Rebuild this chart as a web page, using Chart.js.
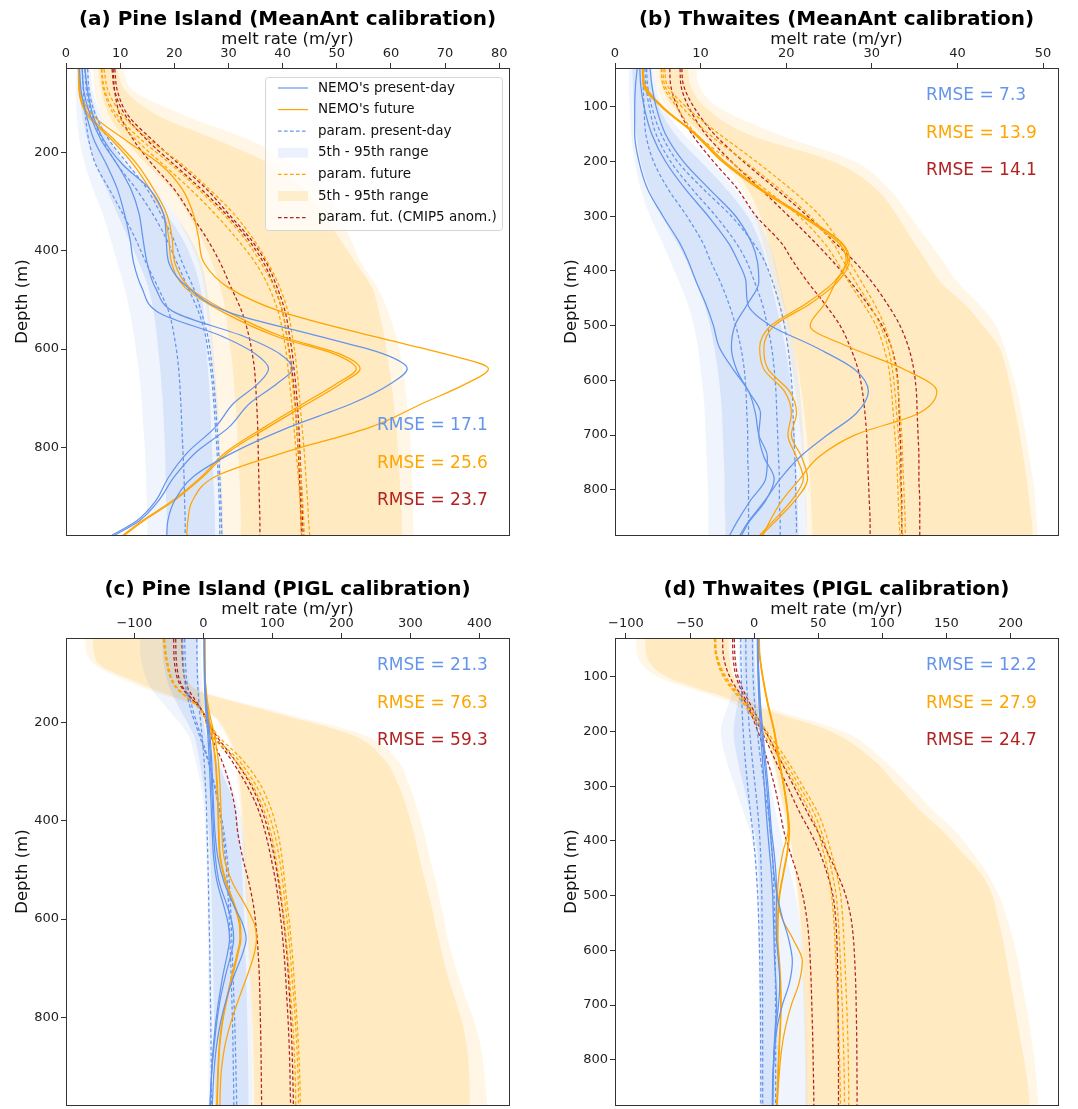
<!DOCTYPE html>
<html>
<head>
<meta charset="utf-8">
<script src="https://cdn.jsdelivr.net/npm/chart.js@4.4.1/dist/chart.umd.min.js"></script>
<style>
  html, body { margin: 0; padding: 0; background: #fff; overflow: hidden; }
  .panel { position: absolute; width: 530px; height: 545px; }
</style>
</head>
<body>
<div class="panel" style="left:0;top:0"><canvas id="chartA" width="530" height="545"></canvas></div>
<div class="panel" style="left:549px;top:0"><canvas id="chartB" width="530" height="545"></canvas></div>
<div class="panel" style="left:0;top:570px"><canvas id="chartC" width="530" height="545"></canvas></div>
<div class="panel" style="left:549px;top:570px"><canvas id="chartD" width="530" height="545"></canvas></div>
<script>
// Depth levels (m) of the profiles, one list per ice shelf
const depthPI = [30, 75, 125, 175, 225, 275, 325, 375, 425, 475, 525, 575, 610, 640, 670, 710, 760, 810, 860, 910, 950, 979]
const depthTW = [30, 60, 100, 150, 200, 250, 300, 350, 380, 420, 460, 500, 540, 580, 620, 660, 700, 740, 780, 820, 860, 883]

// Tick labels
const xTicksA = [0, 10, 20, 30, 40, 50, 60, 70, 80]
const xTicksB = [0, 10, 20, 30, 40, 50]
const xTicksC = [-100, 0, 100, 200, 300, 400]
const xTicksD = [-100, -50, 0, 50, 100, 150, 200]
const yTicksPI = [200, 400, 600, 800]
const yTicksTW = [100, 200, 300, 400, 500, 600, 700, 800]

// RMSE labels: present-day, future, future (CMIP5 anom.)
const rmseA = [17.1, 25.6, 23.7]
const rmseB = [7.3, 13.9, 14.1]
const rmseC = [21.3, 76.3, 59.3]
const rmseD = [12.2, 27.9, 24.7]

// ---- (a) Pine Island, MeanAnt calibration (m/yr) ----
const aNemoPresent = [
  [2.5, 2.8, 3.8, 5.2, 7.5, 9.5, 10.8, 11.8, 12.5, 14, 17, 29, 35, 37.4, 35.5, 31, 27.5, 22.5, 19, 16.5, 13, 8.5],
  [3, 3.3, 4.5, 6.5, 9.5, 12, 13.5, 14.2, 15, 16.5, 20, 33, 39.5, 41.8, 39, 34, 30, 24, 20, 17, 13.5, 9],
  [3.5, 4, 5, 7, 10.5, 15.5, 18, 18.5, 19, 22.5, 30, 47, 58.6, 63, 60, 53, 41, 31, 23.5, 20, 18.8, 18.6]
]
const aNemoFuture = [
  [2.3, 2.4, 4, 8.5, 12.5, 15.5, 18, 19, 19.5, 22, 29, 39, 49.5, 53.6, 50, 44, 36.5, 29.5, 25, 19.5, 14, 10.5],
  [2.4, 2.5, 4.3, 9, 13.2, 16.2, 18.6, 19.6, 20.1, 22.8, 30, 40, 50.5, 54.3, 50.8, 44.8, 37.2, 30, 25.3, 19.8, 14.3, 10.8],
  [2.3, 2.6, 5, 11, 17.5, 21.5, 23.5, 24.5, 25.5, 30, 40, 57, 70, 78, 74, 66, 56, 40.5, 27.5, 23.3, 22.5, 22.3]
]
const aParamPresent = [
  [3, 3.2, 3.6, 4.2, 5.5, 8, 10.5, 12.8, 14.8, 17, 19, 20, 20.5, 20.8, 21, 21.2, 21.4, 21.6, 21.8, 21.9, 22, 22],
  [3.5, 3.8, 4.8, 6.8, 9.5, 13, 16, 18.5, 20.5, 22.5, 24.5, 25.8, 26.3, 26.7, 27, 27.3, 27.6, 27.9, 28.1, 28.3, 28.4, 28.4],
  [4, 4.3, 5.5, 8, 11.5, 15, 17.5, 19.8, 21.5, 23.5, 25, 26.2, 26.7, 27, 27.3, 27.6, 27.9, 28.2, 28.4, 28.6, 28.7, 28.8]
]
const aParamFuture = [
  [6.6, 7.2, 9.5, 14, 19.5, 24.5, 29, 33, 36, 38.5, 40, 40.8, 41.2, 41.5, 41.8, 42.2, 42.6, 43, 43.4, 43.7, 43.9, 44],
  [7, 7.8, 10.5, 15.5, 21.5, 26.5, 31, 34.5, 37.3, 39.5, 41, 41.8, 42.3, 42.6, 42.9, 43.2, 43.6, 44, 44.3, 44.6, 44.8, 45],
  [6.5, 7, 9, 13, 18, 23, 27.5, 31.5, 35, 37.5, 39.2, 40.2, 40.7, 41, 41.3, 41.7, 42.1, 42.5, 42.9, 43.2, 43.4, 43.5]
]
const aParamCmip5 = [
  [8.7, 9, 10, 12.5, 16, 20, 23, 26, 28.5, 30.5, 32.5, 33.8, 34.4, 34.8, 35, 35.2, 35.4, 35.5, 35.6, 35.7, 35.8, 35.8],
  [8.5, 9, 11, 15, 20, 25, 29.5, 33.5, 36.5, 38.5, 40, 40.8, 41.3, 41.7, 42, 42.3, 42.6, 42.9, 43.1, 43.3, 43.4, 43.5],
  [9, 9.5, 11.5, 16, 21, 26, 30, 34, 37, 39, 40.5, 41.3, 41.8, 42.1, 42.4, 42.7, 43, 43.2, 43.4, 43.6, 43.7, 43.8]
]
// 5th-95th ranges: outer low, outer high, inner low, inner high
const aPresentRange = [
  [2, 1.8, 2, 2.5, 3.5, 5, 6.8, 8.2, 9.5, 10.8, 11.8, 12.6, 13, 13.4, 13.7, 14, 14.3, 14.6, 14.8, 14.9, 15, 15],
  [4.5, 5, 6.5, 9, 12.5, 16.5, 20, 23, 25, 26, 26.5, 27, 27.3, 27.5, 27.7, 28, 28.3, 28.5, 28.7, 28.9, 29, 29],
  [2.5, 2.6, 3, 4, 5.5, 7.5, 9.5, 11.5, 13.5, 15.2, 16.2, 16.8, 17.1, 17.4, 17.6, 17.9, 18.1, 18.3, 18.4, 18.5, 18.6, 18.6],
  [4, 4.5, 5.8, 8, 11, 15, 18.5, 21.5, 23.5, 24.8, 25.4, 25.8, 26, 26.2, 26.4, 26.6, 26.8, 27, 27.2, 27.4, 27.5, 27.5]
]
const aFutureRange = [
  [5, 5.3, 6.5, 9, 12.5, 16.5, 20, 22.5, 24.5, 25.5, 26, 26.5, 26.8, 27, 27.2, 27.5, 27.8, 28, 28.2, 28.4, 28.5, 28.5],
  [10.5, 12.5, 22, 34, 42, 47.5, 50.5, 52.5, 54.5, 57.5, 59.5, 61, 61.7, 62.2, 62.6, 63, 63.4, 63.7, 63.9, 64, 64.1, 64.2],
  [6, 6.5, 8, 11, 15, 19.5, 22.5, 25, 27, 28.5, 29.5, 30, 30.5, 30.8, 31, 31.3, 31.6, 31.8, 32, 32.2, 32.3, 32.3],
  [9.4, 11, 17, 28, 38, 44, 47.5, 50.5, 53.5, 56.5, 57.8, 58.8, 59.3, 59.7, 60.1, 60.5, 61, 61.3, 61.6, 61.8, 62, 62]
]

// ---- (b) Thwaites, MeanAnt calibration ----
const bNemoPresent = [
  [2.6, 2.4, 2.3, 2.3, 2.8, 3.8, 5.6, 7.6, 8.5, 9.5, 10.6, 11.5, 12.2, 13.8, 15.6, 16.4, 16.8, 17.8, 17.6, 15.8, 14.2, 13.4],
  [4.1, 4.3, 4.8, 5.9, 8, 11, 14.1, 16, 16.6, 16.8, 15.5, 14, 13.6, 14.2, 15.6, 17, 16.8, 17.4, 18.6, 17.6, 15.6, 14.8],
  [2.9, 3, 3.4, 4.3, 5.9, 8.2, 10.9, 13.3, 14.3, 15.3, 15.5, 18.2, 23.5, 28, 29.6, 28.2, 24.8, 21.6, 19.3, 17.5, 15.5, 14.6]
]
const bNemoFuture = [
  [3.2, 3.3, 5.4, 9.3, 12.5, 16.8, 21.8, 26.2, 27, 25.6, 22.3, 18.2, 16.9, 17.4, 19.8, 20.6, 20.2, 21.2, 22, 20.6, 18.3, 16.9],
  [3.3, 3.5, 5.6, 9.5, 12.8, 17.1, 22.1, 26.6, 27.4, 26, 22.8, 18.6, 17.4, 17.9, 20.4, 21.2, 20.6, 21.8, 22.5, 21, 18.6, 17.1],
  [3.2, 3.4, 5.5, 9.4, 12.6, 16.9, 22, 26.5, 27.2, 25.8, 24.5, 22.8, 27.5, 33.8, 37.6, 35.5, 28, 23.8, 21.6, 19.5, 18, 17.3]
]
const bParamPresent = [
  [3.3, 3.3, 3.4, 3.6, 4.5, 6.2, 8.4, 10.3, 11.1, 12.3, 13.3, 14.1, 14.7, 15.1, 15.3, 15.4, 15.5, 15.5, 15.6, 15.6, 15.6, 15.6],
  [3.5, 3.6, 4, 4.8, 6.5, 9, 11.8, 14.2, 15.3, 16.3, 17.2, 17.8, 18.3, 18.6, 18.8, 18.9, 19, 19.1, 19.2, 19.2, 19.3, 19.3],
  [3.7, 3.8, 4.3, 5.4, 7.3, 10.3, 13.6, 16.2, 17.4, 18.4, 19.2, 19.8, 20.2, 20.5, 20.7, 20.8, 20.9, 21, 21.1, 21.1, 21.2, 21.2]
]
const bParamFuture = [
  [5.4, 5.6, 7.2, 9.5, 13.5, 17.5, 21.5, 24.5, 25.8, 27.3, 29, 30.5, 31.4, 32, 32.3, 32.5, 32.7, 32.9, 33, 33.1, 33.2, 33.3],
  [5.8, 6.1, 8.3, 12.2, 16.5, 20.5, 24, 26.3, 27.3, 28.8, 30.3, 31.5, 32.3, 32.8, 33.1, 33.3, 33.5, 33.6, 33.7, 33.8, 33.9, 33.9],
  [5.6, 5.8, 7.8, 11, 15.2, 19.2, 22.8, 25.5, 26.6, 28.1, 29.7, 31, 31.9, 32.4, 32.7, 32.9, 33.1, 33.2, 33.3, 33.4, 33.5, 33.6]
]
const bParamCmip5 = [
  [6.4, 6.5, 7.3, 9, 11.5, 14.3, 16.5, 19.5, 20.7, 22.5, 24.5, 26.3, 27.5, 28.4, 28.9, 29.2, 29.4, 29.5, 29.6, 29.7, 29.8, 29.8],
  [7.6, 7.7, 8.6, 10.6, 13.6, 17, 20.3, 23.5, 25.3, 27.5, 29.5, 31.2, 32.3, 32.9, 33.1, 33.2, 33.3, 33.4, 33.4, 33.5, 33.5, 33.5],
  [7.8, 8, 9.2, 11.6, 15, 18.8, 22.5, 25.8, 27.8, 30, 31.8, 33.3, 34.3, 34.9, 35.2, 35.3, 35.4, 35.5, 35.5, 35.6, 35.6, 35.6]
]
const bPresentRange = [
  [1.6, 1.6, 1.7, 1.9, 2.3, 3, 4.1, 5.6, 6.4, 7.5, 8.5, 9.2, 9.7, 10, 10.3, 10.5, 10.6, 10.7, 10.8, 10.9, 10.9, 10.9],
  [4.5, 4.8, 5.6, 8, 11.2, 14, 16.5, 18, 18.6, 19.2, 19.8, 20.4, 20.9, 21.3, 21.6, 21.8, 22, 22.1, 22.2, 22.3, 22.4, 22.4],
  [2, 2.1, 2.2, 2.5, 3, 4, 5.5, 7.3, 8.3, 9.4, 10.4, 11.1, 11.6, 12, 12.3, 12.5, 12.6, 12.7, 12.8, 12.8, 12.9, 12.9],
  [4.2, 4.4, 5.1, 7, 10, 13, 15.5, 17, 17.6, 18.2, 18.8, 19.4, 19.9, 20.3, 20.6, 20.8, 21, 21.1, 21.2, 21.3, 21.4, 21.4]
]
const bFutureRange = [
  [4.6, 4.8, 6, 9.5, 12.6, 14.8, 16.3, 17.3, 17.8, 18.4, 19, 19.6, 20.2, 20.7, 21.1, 21.4, 21.7, 21.9, 22.1, 22.2, 22.3, 22.4],
  [9.5, 9.8, 12, 19, 28, 32, 34.5, 36.8, 38.2, 40, 42.5, 44.5, 45.5, 46.3, 47, 47.5, 48, 48.4, 48.8, 49.1, 49.3, 49.4],
  [5.2, 5.4, 6.8, 10.2, 13.3, 15.5, 17, 18, 18.5, 19.1, 19.7, 20.3, 20.9, 21.4, 21.8, 22.1, 22.4, 22.6, 22.8, 22.9, 23, 23.1],
  [8.5, 8.8, 10.5, 15.5, 25.5, 30.5, 33, 35, 36.3, 38, 40.8, 43, 44.9, 45.7, 46.3, 46.8, 47.3, 47.7, 48.1, 48.4, 48.7, 48.8]
]

// ---- (c) Pine Island, PIGL calibration ----
const cNemoPresent = [
  [1, 1.2, 1.8, 3.5, 6.5, 8.5, 10, 11.5, 13, 15, 20, 30, 36, 38, 35, 29, 23, 18, 14.5, 12, 10.5, 9.5],
  [1.2, 1.5, 2.2, 4.5, 8, 10.5, 12, 13.5, 15, 17.5, 23, 35, 42, 44, 40.5, 33, 25, 19.5, 15.5, 12.5, 11, 10],
  [1.5, 1.8, 2.8, 5.5, 9.5, 12, 13.5, 15, 17, 21, 30, 45, 57, 62, 57, 46, 34, 25, 19, 15.5, 14, 13]
]
const cNemoFuture = [
  [2, 2.2, 3, 6, 12, 17, 19.5, 21, 22, 24, 32, 45, 52, 53, 49, 42, 34, 27, 23, 21, 20, 19.5],
  [2.2, 2.4, 3.2, 6.5, 12.8, 17.8, 20.3, 21.8, 22.8, 25, 33.5, 46.5, 53.5, 54.5, 50.5, 43.5, 35, 28, 23.8, 21.8, 20.7, 20.2],
  [2, 2.3, 3.5, 8, 16, 21.5, 24, 25.5, 27, 30, 42, 62, 74, 77, 74, 65, 52, 40, 31, 26, 24.5, 24]
]
const cParamPresent = [
  [-9.5, -9, -8, -5.5, -2, 1, 3, 4.5, 5.5, 6.5, 7.3, 8, 8.5, 9, 9.4, 9.8, 10.3, 10.8, 11.2, 11.6, 11.9, 12],
  [-30, -29, -26, -18, -6, 6, 16, 24, 30, 34.5, 37.5, 39.5, 40.5, 41.3, 42, 43, 44.3, 45.5, 46.5, 47.3, 48, 48.3],
  [-27, -26, -23, -15, -4, 7, 15.5, 22.5, 28, 32, 34.8, 36.8, 37.8, 38.6, 39.3, 40.2, 41.3, 42.3, 43, 43.6, 44, 44.2]
]
const cParamFuture = [
  [-57, -53, -41, -3, 14, 50, 75, 92, 103, 110, 115, 119, 122, 124, 126, 128, 131, 133.5, 135.5, 137, 137.8, 138],
  [-56, -52, -40, -2, 20, 56, 82, 98, 108, 114, 118, 122, 125, 127, 129, 131, 133.5, 136, 138, 139.5, 140.3, 140.5],
  [-58, -54, -42, -4, 11, 45, 70, 87, 98, 105, 110.5, 115, 118, 120, 122, 124.5, 127, 129.5, 131.5, 133, 133.8, 134]
]
const cParamCmip5 = [
  [-43, -42, -33, -3, 10, 26, 38, 46, 50, 57, 66, 73, 76, 78, 79.5, 81, 82, 82.8, 83.5, 84, 84.3, 84.5],
  [-31, -30, -24, -2, 18, 45, 68, 84, 95, 103, 109, 114, 117, 119, 121, 123, 125, 127, 128.5, 129.5, 130.2, 130.5],
  [-40, -39, -31, -3, 15, 40, 62, 79, 90, 98, 105, 110, 113, 115, 117, 119, 121, 123, 124.5, 125.5, 126, 126.5]
]
const cPresentRange = [
  [-92, -90, -78, -50, -22, -12, -4, 1, 3, 4.5, 5.5, 6, 6.3, 6.5, 6.7, 7, 7.2, 7.4, 7.5, 7.6, 7.6, 7.6],
  [-3, -3, -1, 2, 8, 22, 40, 52, 58, 61, 63, 64.5, 65.5, 66.5, 67.5, 68.5, 69.5, 70.5, 71, 71.5, 72, 72],
  [-60, -58, -50, -33, -14, -6, 0, 5, 8, 10, 11.5, 12.5, 13, 13.5, 14, 14.5, 15, 15.5, 16, 16.3, 16.5, 16.5],
  [-8, -8, -6, -2, 4, 18, 34, 46, 52, 55, 57, 58.5, 59.5, 60.3, 61, 62, 63, 63.8, 64.5, 65, 65.3, 65.5]
]
const cFutureRange = [
  [-172, -163, -95, 2, 32, 45, 50, 53, 56, 58, 60, 62, 63.5, 64.5, 65.5, 67, 68.5, 70, 71, 72, 72.5, 72.5],
  [-28, -27, -17, 100, 232, 280, 298, 310, 320, 328, 337, 345, 350, 354, 360, 368, 380, 393, 402, 407, 410, 411],
  [-160, -155, -85, 5, 35, 48, 53, 56, 58, 60, 62, 64, 65, 66, 67, 68.5, 70, 71.5, 72.5, 73, 73.5, 73.5],
  [-30, -29, -19, 90, 215, 262, 282, 295, 305, 313, 322, 331, 336, 341, 346, 353, 364, 375, 382, 385, 386, 386]
]

// ---- (d) Thwaites, PIGL calibration ----
const dNemoPresent = [
  [2.5, 2.6, 3, 3.8, 5, 6.5, 8, 9.5, 10.5, 12, 13.5, 14.5, 15, 15.5, 16, 17, 17.5, 16.5, 15.5, 14.8, 14.3, 14.2],
  [3, 3.2, 3.8, 5, 6.8, 8.8, 10.8, 12.5, 13.5, 15.5, 17, 17.5, 17.2, 17.5, 19, 20, 19, 17, 15.8, 15, 14.6, 14.5],
  [2.8, 3, 3.5, 4.5, 6, 7.8, 9.8, 11.5, 12.5, 14, 15.5, 18, 22, 27, 29.8, 27.5, 22, 18, 16, 15, 14.6, 14.5]
]
const dNemoFuture = [
  [3.8, 4.2, 6.5, 10.5, 15.5, 19, 23, 26, 27.2, 25.7, 22.5, 19.5, 18.3, 18.1, 19.4, 20.3, 20.7, 20.2, 19.3, 18.6, 18, 17.6],
  [4, 4.5, 6.9, 11, 16, 19.5, 23.5, 26.5, 27.6, 26.2, 23, 20, 18.8, 18.6, 19.8, 20.8, 21.1, 20.6, 19.7, 19, 18.3, 17.9],
  [3.9, 4.3, 6.7, 10.7, 15.7, 19.2, 23.2, 26.2, 26.5, 22.5, 19.5, 18.2, 21.5, 30.5, 37.6, 35, 29, 24.5, 21.5, 19.8, 18.5, 18]
]
const dParamPresent = [
  [-10.4, -10.3, -10, -9.5, -8.5, -7, -5, -2.8, -1.2, 0.5, 1.8, 2.8, 3.5, 4, 4.4, 4.7, 4.9, 5, 5.1, 5.2, 5.2, 5.2],
  [-6.5, -6.4, -6, -5, -3.5, -1.5, 0.8, 3, 4, 5, 5.6, 6, 6.2, 6.3, 6.4, 6.5, 6.6, 6.6, 6.7, 6.7, 6.7, 6.7],
  [-1.3, -1.2, -0.8, 0.5, 2.5, 5, 8, 11, 12.5, 14, 15, 15.6, 16, 16.3, 16.5, 16.6, 16.7, 16.8, 16.8, 16.8, 16.8, 16.8]
]
const dParamFuture = [
  [-31, -30, -24, -8, 6, 20, 33, 44, 49.5, 54, 58, 60.5, 62, 63, 63.8, 64.5, 65.2, 65.8, 66.4, 66.9, 67.2, 67.4],
  [-30, -29, -22, -5, 10, 25, 38, 50, 55, 60, 64.5, 67.5, 69, 70, 70.8, 71.5, 72.2, 72.8, 73.3, 73.6, 73.8, 73.8],
  [-30.5, -29.5, -23, -6.5, 8, 22.5, 35.5, 47, 52, 57, 61, 64, 65.5, 66.5, 67.3, 68, 68.7, 69.3, 69.8, 70.2, 70.4, 70.5]
]
const dParamCmip5 = [
  [-24.6, -24, -19, -6, 3, 10, 16, 20.5, 23, 28, 33.5, 38, 41, 42.8, 43.8, 44.5, 45, 45.5, 45.9, 46.2, 46.5, 46.6],
  [-16.8, -16.5, -14, -5, 6, 16, 26, 36, 43, 51, 57, 61.5, 63.5, 64.5, 65, 65.3, 65.5, 65.6, 65.7, 65.8, 65.8, 65.8],
  [-15.5, -15, -12.5, -3, 9, 20, 31, 42, 49, 57, 65, 71.5, 75.5, 77.5, 78.5, 79.2, 79.6, 79.9, 80.1, 80.2, 80.3, 80.3]
]
const dPresentRange = [
  [-12, -12, -13, -20, -26, -22, -15, -8, -3.5, 0, 1.5, 2.3, 2.8, 3.2, 3.5, 3.7, 3.8, 3.9, 3.9, 3.9, 3.9, 3.9],
  [2, 2.2, 3, 4.5, 6.5, 9.5, 13, 17, 19.8, 24, 28.5, 32.5, 35, 36.8, 38, 39, 39.8, 40.4, 40.9, 41.2, 41.4, 41.5],
  [-9, -9, -9.5, -13, -16, -13, -8, -3, 0, 2.5, 3.5, 4.2, 4.6, 4.9, 5.1, 5.3, 5.4, 5.5, 5.5, 5.6, 5.6, 5.6],
  [0, 0.2, 1, 2.5, 4.5, 7, 9.5, 12, 13.5, 15, 16.3, 17.2, 17.8, 18.2, 18.5, 18.7, 18.8, 18.9, 19, 19, 19, 19]
]
const dFutureRange = [
  [-92, -91, -75, -15, 8, 14, 18.5, 23, 26, 29, 31.5, 33.5, 35, 36.3, 37.3, 38, 38.6, 39, 39.4, 39.7, 39.9, 40],
  [-18, -17.5, -14, 5, 70, 100, 122, 142, 156, 170, 182, 191, 197, 202, 206, 209, 212, 215, 217.5, 219.5, 221, 221.5],
  [-85, -84, -68, -10, 9, 15, 19.5, 24, 27, 30, 32.5, 34.5, 36, 37.3, 38.3, 39, 39.6, 40, 40.4, 40.7, 40.9, 41],
  [-20, -19.5, -16, 0, 60, 92, 112, 132, 146, 162, 177, 186, 190, 194, 197, 200, 203, 206, 209, 212, 214, 215]
]

const BLUE = '#6495ED'
const ORANGE = '#FFA500'
const RED = '#B22222'
const FONT = '"DejaVu Sans", "Liberation Sans", sans-serif'
const DASH = [3.6, 2.4]

function profile(depth, values) {
  return values.map((v, i) => ({ x: v, y: depth[i] }))
}

function lineSet(depth, values, color, dashed) {
  return {
    data: profile(depth, values),
    borderColor: color,
    borderWidth: 1.25,
    borderDash: dashed ? DASH : [],
    pointRadius: 0,
    fill: false
  }
}

function bandSets(depth, lo, hi, color) {
  return [
    { data: profile(depth, lo), borderWidth: 0, borderColor: 'rgba(0,0,0,0)', pointRadius: 0, fill: false },
    { data: profile(depth, hi), borderWidth: 0, borderColor: 'rgba(0,0,0,0)', pointRadius: 0, fill: '-1', backgroundColor: color }
  ]
}

function tickLabel(v) {
  return v < 0 ? '\u2212' + Math.abs(v) : String(v)
}

// Frame around the plotting area (all four spines)
const framePlugin = {
  id: 'frame',
  afterDatasetsDraw(chart) {
    const { ctx, chartArea: a } = chart
    ctx.save()
    ctx.strokeStyle = '#333'
    ctx.lineWidth = 1
    ctx.strokeRect(Math.round(a.left) + 0.5, Math.round(a.top) + 0.5, Math.round(a.right - a.left), Math.round(a.bottom - a.top))
    ctx.restore()
  }
}

function rmsePlugin(values, top) {
  const colors = [BLUE, ORANGE, RED]
  return {
    id: 'rmse',
    afterDraw(chart) {
      const { ctx, chartArea: a } = chart
      ctx.save()
      ctx.font = '17px ' + FONT
      ctx.textAlign = 'left'
      ctx.textBaseline = 'middle'
      values.forEach((v, i) => {
        ctx.fillStyle = colors[i]
        ctx.fillText('RMSE = ' + v.toFixed(1), a.left + 311, a.top + top + i * 37.4)
      })
      ctx.restore()
    }
  }
}

const legendItems = [
  { text: "NEMO's present-day", kind: 'line', color: BLUE },
  { text: "NEMO's future", kind: 'line', color: ORANGE },
  { text: 'param. present-day', kind: 'dash', color: BLUE },
  { text: '5th - 95th range', kind: 'box', color: 'rgba(100,149,237,0.12)' },
  { text: 'param. future', kind: 'dash', color: ORANGE },
  { text: '5th - 95th range', kind: 'box', color: 'rgba(255,165,0,0.16)' },
  { text: 'param. fut. (CMIP5 anom.)', kind: 'dash', color: RED }
]

const legendPlugin = {
  id: 'boxLegend',
  afterDraw(chart) {
    const { ctx, chartArea: a } = chart
    const x0 = a.left + 199, y0 = a.top + 9, w = 237, h = 153
    ctx.save()
    ctx.beginPath()
    ctx.roundRect(x0 + 0.5, y0 + 0.5, w, h, 3)
    ctx.fillStyle = 'rgba(255,255,255,0.8)'
    ctx.fill()
    ctx.strokeStyle = '#d6d6d6'
    ctx.lineWidth = 1
    ctx.stroke()
    ctx.font = '13.5px ' + FONT
    ctx.textBaseline = 'middle'
    ctx.textAlign = 'left'
    legendItems.forEach((item, i) => {
      const y = y0 + 11 + i * 21.6
      const sx = x0 + 13
      if (item.kind === 'box') {
        ctx.fillStyle = item.color
        ctx.fillRect(sx, y - 5, 30, 10)
      } else {
        ctx.beginPath()
        ctx.setLineDash(item.kind === 'dash' ? DASH : [])
        ctx.strokeStyle = item.color
        ctx.lineWidth = 1.2
        ctx.moveTo(sx, y)
        ctx.lineTo(sx + 30, y)
        ctx.stroke()
        ctx.setLineDash([])
      }
      ctx.fillStyle = '#111'
      ctx.fillText(item.text, x0 + 53, y)
    })
    ctx.restore()
  }
}

function makeChart(id, p) {
  const datasets = []
  p.nemoPresent.forEach(v => datasets.push(lineSet(p.depth, v, BLUE, false)))
  p.nemoFuture.forEach(v => datasets.push(lineSet(p.depth, v, ORANGE, false)))
  p.paramPresent.forEach(v => datasets.push(lineSet(p.depth, v, BLUE, true)))
  p.paramFuture.forEach(v => datasets.push(lineSet(p.depth, v, ORANGE, true)))
  p.paramCmip5.forEach(v => datasets.push(lineSet(p.depth, v, RED, true)))
  datasets.push(...bandSets(p.depth, p.presentRange[0], p.presentRange[1], 'rgba(100,149,237,0.10)'))
  datasets.push(...bandSets(p.depth, p.presentRange[2], p.presentRange[3], 'rgba(100,149,237,0.17)'))
  datasets.push(...bandSets(p.depth, p.futureRange[0], p.futureRange[1], 'rgba(255,165,0,0.10)'))
  datasets.push(...bandSets(p.depth, p.futureRange[2], p.futureRange[3], 'rgba(255,165,0,0.16)'))

  const plugins = [framePlugin, rmsePlugin(p.rmse, p.rmseTop)]
  if (p.legend) plugins.push(legendPlugin)

  return new Chart(document.getElementById(id), {
    type: 'line',
    data: { datasets },
    options: {
      indexAxis: 'y',
      responsive: false,
      animation: false,
      events: [],
      layout: { padding: { left: 0, right: 21, top: 0, bottom: 6 } },
      elements: { line: { cubicInterpolationMode: 'monotone' } },
      scales: {
        x: {
          type: 'linear',
          position: 'top',
          min: p.xMin,
          max: p.xMax,
          afterFit(s) { s.height = 36 },
          afterBuildTicks(s) { s.ticks = p.xTicks.map(v => ({ value: v })) },
          border: { display: false },
          grid: { drawOnChartArea: false, tickLength: 5, color: '#333' },
          ticks: { color: '#222', padding: 2, maxRotation: 0, autoSkip: false, font: { family: FONT, size: 13 }, callback: tickLabel },
          title: { display: true, text: 'melt rate (m/yr)', color: '#111', padding: { top: -2, bottom: 0 }, font: { family: FONT, size: 16.5 } }
        },
        y: {
          type: 'linear',
          reverse: true,
          min: p.yMin,
          max: p.yMax,
          afterFit(s) { s.width = 66 },
          afterBuildTicks(s) { s.ticks = p.yTicks.map(v => ({ value: v })) },
          border: { display: false },
          grid: { drawOnChartArea: false, tickLength: 5, color: '#333' },
          ticks: { color: '#222', padding: 2, autoSkip: false, font: { family: FONT, size: 13 }, callback: tickLabel },
          title: { display: true, text: 'Depth (m)', color: '#111', padding: { top: 13, bottom: 0 }, font: { family: FONT, size: 16.5 } }
        }
      },
      plugins: {
        legend: { display: false },
        tooltip: { enabled: false },
        filler: { drawTime: 'beforeDatasetsDraw' },
        title: {
          display: true,
          text: p.title,
          fullSize: false,
          color: '#000',
          padding: { top: 8, bottom: 0 },
          font: { family: FONT, size: 20, weight: 'bold' }
        }
      }
    },
    plugins
  })
}

makeChart('chartA', {
  title: '(a) Pine Island (MeanAnt calibration)', depth: depthPI,
  xMin: 0, xMax: 81.8, yMin: 28, yMax: 979, xTicks: xTicksA, yTicks: yTicksPI,
  nemoPresent: aNemoPresent, nemoFuture: aNemoFuture, paramPresent: aParamPresent,
  paramFuture: aParamFuture, paramCmip5: aParamCmip5, presentRange: aPresentRange, futureRange: aFutureRange,
  rmse: rmseA, rmseTop: 357.7, legend: true
})
makeChart('chartB', {
  title: '(b) Thwaites (MeanAnt calibration)', depth: depthTW,
  xMin: 0, xMax: 51.75, yMin: 29, yMax: 883, xTicks: xTicksB, yTicks: yTicksTW,
  nemoPresent: bNemoPresent, nemoFuture: bNemoFuture, paramPresent: bParamPresent,
  paramFuture: bParamFuture, paramCmip5: bParamCmip5, presentRange: bPresentRange, futureRange: bFutureRange,
  rmse: rmseB, rmseTop: 27.7, legend: false
})
makeChart('chartC', {
  title: '(c) Pine Island (PIGL calibration)', depth: depthPI,
  xMin: -199, xMax: 443, yMin: 28, yMax: 979, xTicks: xTicksC, yTicks: yTicksPI,
  nemoPresent: cNemoPresent, nemoFuture: cNemoFuture, paramPresent: cParamPresent,
  paramFuture: cParamFuture, paramCmip5: cParamCmip5, presentRange: cPresentRange, futureRange: cFutureRange,
  rmse: rmseC, rmseTop: 27.7, legend: false
})
makeChart('chartD', {
  title: '(d) Thwaites (PIGL calibration)', depth: depthTW,
  xMin: -108.5, xMax: 237, yMin: 29, yMax: 883, xTicks: xTicksD, yTicks: yTicksTW,
  nemoPresent: dNemoPresent, nemoFuture: dNemoFuture, paramPresent: dParamPresent,
  paramFuture: dParamFuture, paramCmip5: dParamCmip5, presentRange: dPresentRange, futureRange: dFutureRange,
  rmse: rmseD, rmseTop: 27.7, legend: false
})
</script>
</body>
</html>
